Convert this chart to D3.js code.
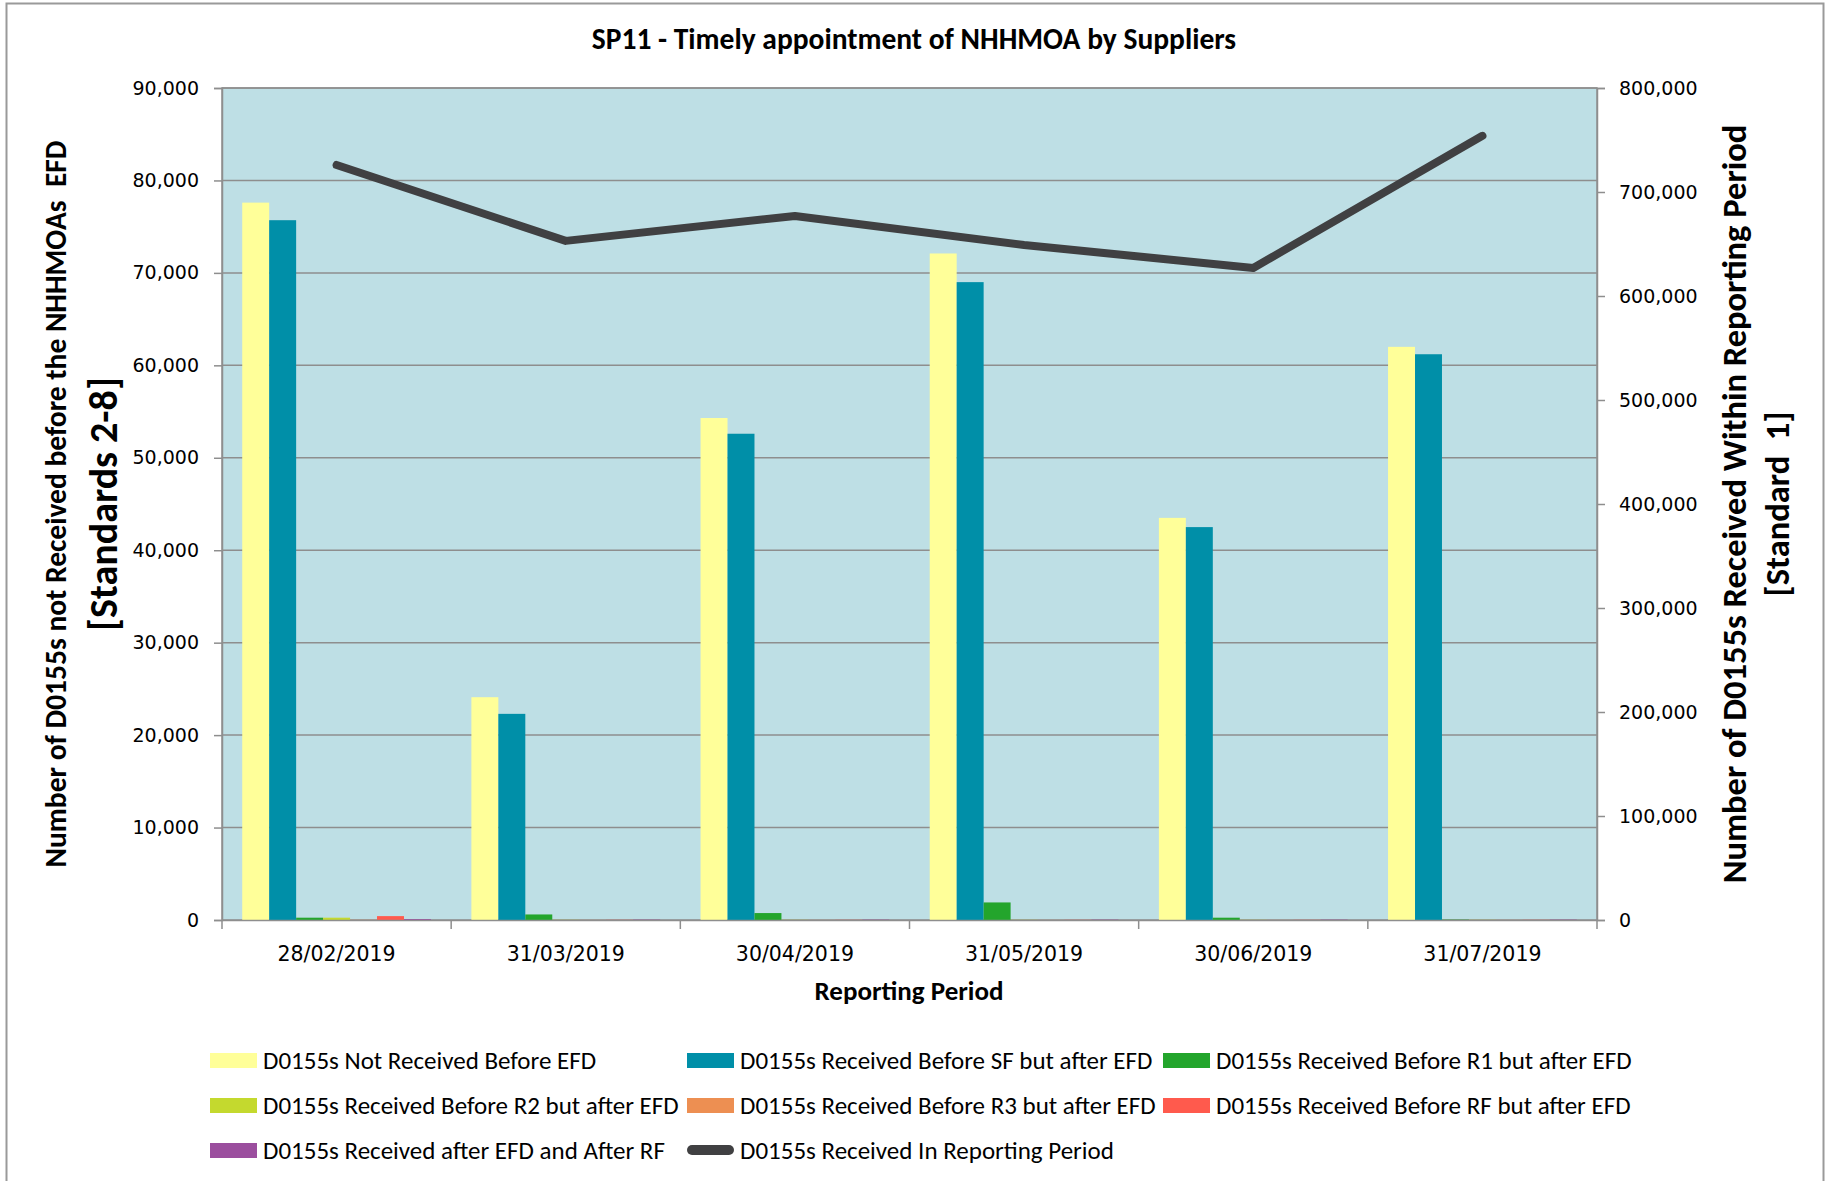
<!DOCTYPE html>
<html>
<head>
<meta charset="utf-8">
<script src="https://cdn.jsdelivr.net/npm/d3@7"></script>
<style>
  body { margin: 0; background: #fff; }
  svg { display: block; }
  .cal { font-family: Carlito, Lato, "Liberation Sans", sans-serif; white-space: pre; }
  .tick text { font-family: "DejaVu Sans", Verdana, sans-serif; font-size: 19px; fill: #000; }
  .xax .tick text { font-size: 20.5px; }
</style>
</head>
<body>
<svg id="chart" width="1833" height="1181"></svg>
<script>
// data
const categories = ["28/02/2019", "31/03/2019", "30/04/2019", "31/05/2019", "30/06/2019", "31/07/2019"];
const notReceived = [77600, 24100, 54300, 72100, 43500, 62000];
const beforeSF = [75700, 22300, 52600, 69000, 42500, 61200];
const beforeR1 = [250, 600, 750, 1900, 250, 40];
const beforeR2 = [250, 20, 20, 20, 20, 20];
const beforeR3 = [20, 10, 10, 10, 10, 10];
const beforeRF = [420, 20, 20, 20, 20, 20];
const afterRF = [100, 40, 40, 40, 40, 40];
const inPeriod = [726000, 653000, 677000, 649000, 627000, 754000];

const barNames = [
  "D0155s Not Received Before EFD",
  "D0155s Received Before SF but after EFD",
  "D0155s Received Before R1 but after EFD",
  "D0155s Received Before R2 but after EFD",
  "D0155s Received Before R3 but after EFD",
  "D0155s Received Before RF but after EFD",
  "D0155s Received after EFD and After RF"
];
const lineName = "D0155s Received In Reporting Period";
const barColors = ["#FFFF99", "#008FA8", "#23A52C", "#C4D92E", "#ED8F52", "#FF5A4D", "#9B4E9E"];
const barSeries = [notReceived, beforeSF, beforeR1, beforeR2, beforeR3, beforeRF, afterRF];

const leftTicks = d3.range(0, 90001, 10000);
const rightTicks = d3.range(0, 800001, 100000);

const svg = d3.select("#chart");
const plot = {left: 222, right: 1597, top: 88, bottom: 920};

// chart border
svg.append("rect").attr("x", 6.5).attr("y", 3.5).attr("width", 1817).attr("height", 1200)
  .attr("fill", "#fff").attr("stroke", "#9a9a9a").attr("stroke-width", 2);

const x0 = d3.scaleBand().domain(categories).range([plot.left, plot.right]);
const x1 = d3.scaleBand().domain(d3.range(barNames.length)).range([0, x0.bandwidth()])
  .paddingInner(0).paddingOuter(0.75);
const yL = d3.scaleLinear().domain([0, 90000]).range([plot.bottom, plot.top]);
const yR = d3.scaleLinear().domain([0, 800000]).range([plot.bottom, plot.top]);

// plot area
svg.append("rect").attr("x", plot.left).attr("y", plot.top)
  .attr("width", plot.right - plot.left).attr("height", plot.bottom - plot.top)
  .attr("fill", "#BEDFE5").attr("stroke", "#8e8e8e").attr("stroke-width", 1.5);

// gridlines
svg.append("g").selectAll("line").data(leftTicks.slice(1)).join("line")
  .attr("x1", plot.left).attr("x2", plot.right)
  .attr("y1", d => yL(d)).attr("y2", d => yL(d))
  .attr("stroke", "#8e8e8e").attr("stroke-width", 1.5);

// bars
const fmt = d3.format(",");
barSeries.forEach((vals, si) => {
  svg.append("g").selectAll("rect").data(vals).join("rect")
    .attr("x", (d, i) => x0(categories[i]) + x1(si))
    .attr("width", x1.bandwidth())
    .attr("y", d => yL(d))
    .attr("height", d => yL(0) - yL(d))
    .attr("fill", barColors[si]);
});

// line on the secondary axis
const line = d3.line()
  .x((d, i) => x0(categories[i]) + x0.bandwidth() / 2)
  .y(d => yR(d));
svg.append("path").datum(inPeriod).attr("d", line)
  .attr("fill", "none").attr("stroke", "#404042").attr("stroke-width", 8)
  .attr("stroke-linecap", "round").attr("stroke-linejoin", "round");

// axes
const axL = svg.append("g").attr("transform", `translate(${plot.left},0)`)
  .call(d3.axisLeft(yL).tickValues(leftTicks).tickFormat(fmt).tickSize(8).tickPadding(15));
const axR = svg.append("g").attr("transform", `translate(${plot.right},0)`)
  .call(d3.axisRight(yR).tickValues(rightTicks).tickFormat(fmt).tickSize(8).tickPadding(14));
const axB = svg.append("g").attr("class", "xax").attr("transform", `translate(0,${plot.bottom})`)
  .call(d3.axisBottom(x0).tickSize(0).tickPadding(26));
[axL, axR, axB].forEach(a => {
  a.select(".domain").attr("stroke", "#8e8e8e").attr("stroke-width", 1.5);
  a.selectAll(".tick line").attr("stroke", "#8e8e8e").attr("stroke-width", 1.5);
});
// category boundary ticks on the x axis
svg.append("g").selectAll("line").data(categories.concat(["end"])).join("line")
  .attr("x1", (d, i) => plot.left + i * x0.step()).attr("x2", (d, i) => plot.left + i * x0.step())
  .attr("y1", plot.bottom).attr("y2", plot.bottom + 9)
  .attr("stroke", "#8e8e8e").attr("stroke-width", 1.5);

// titles
svg.append("text").attr("class", "cal").attr("x", 914).attr("y", 49)
  .attr("text-anchor", "middle").attr("font-weight", "bold").attr("font-size", 29.5)
  .text("SP11 - Timely appointment of NHHMOA by Suppliers");
svg.append("text").attr("class", "cal").attr("x", 909).attr("y", 1000)
  .attr("text-anchor", "middle").attr("font-weight", "bold").attr("font-size", 27)
  .text("Reporting Period");

const lt = svg.append("text").attr("class", "cal").attr("font-weight", "bold")
  .attr("text-anchor", "middle").attr("transform", "translate(0,504) rotate(-90)");
lt.append("tspan").attr("x", 0).attr("y", 66).attr("font-size", 29.5)
  .text("Number of D0155s not Received before the NHHMOAs  EFD");
lt.append("tspan").attr("x", 0).attr("y", 117).attr("font-size", 40)
  .text("[Standards 2-8]");

const rt = svg.append("text").attr("class", "cal").attr("font-weight", "bold")
  .attr("text-anchor", "middle").attr("transform", "translate(0,504) rotate(-90)");
rt.append("tspan").attr("x", 0).attr("y", 1746).attr("font-size", 34.5)
  .text("Number of D0155s Received Within Reporting Period");
rt.append("tspan").attr("x", 0).attr("y", 1789).attr("font-size", 34.5)
  .text("[Standard  1]");

// legend
const legendItems = barNames.map((n, i) => ({name: n, color: barColors[i], type: "bar"}))
  .concat([{name: lineName, color: "#404042", type: "line"}]);
const colX = [210, 687, 1163];
const rowY = [1060, 1105, 1150];
const lg = svg.append("g").selectAll("g").data(legendItems).join("g")
  .attr("transform", (d, i) => `translate(${colX[i % 3]},${rowY[Math.floor(i / 3)]})`);
lg.filter(d => d.type === "bar").append("rect")
  .attr("x", 0).attr("y", -7).attr("width", 47).attr("height", 15).attr("fill", d => d.color);
lg.filter(d => d.type === "line").append("line")
  .attr("x1", 5).attr("x2", 42).attr("y1", 0).attr("y2", 0)
  .attr("stroke", d => d.color).attr("stroke-width", 10).attr("stroke-linecap", "round");
lg.append("text").attr("class", "cal").attr("x", 53).attr("y", 0).attr("dy", "0.35em")
  .attr("font-size", 25).text(d => d.name);
</script>
</body>
</html>
